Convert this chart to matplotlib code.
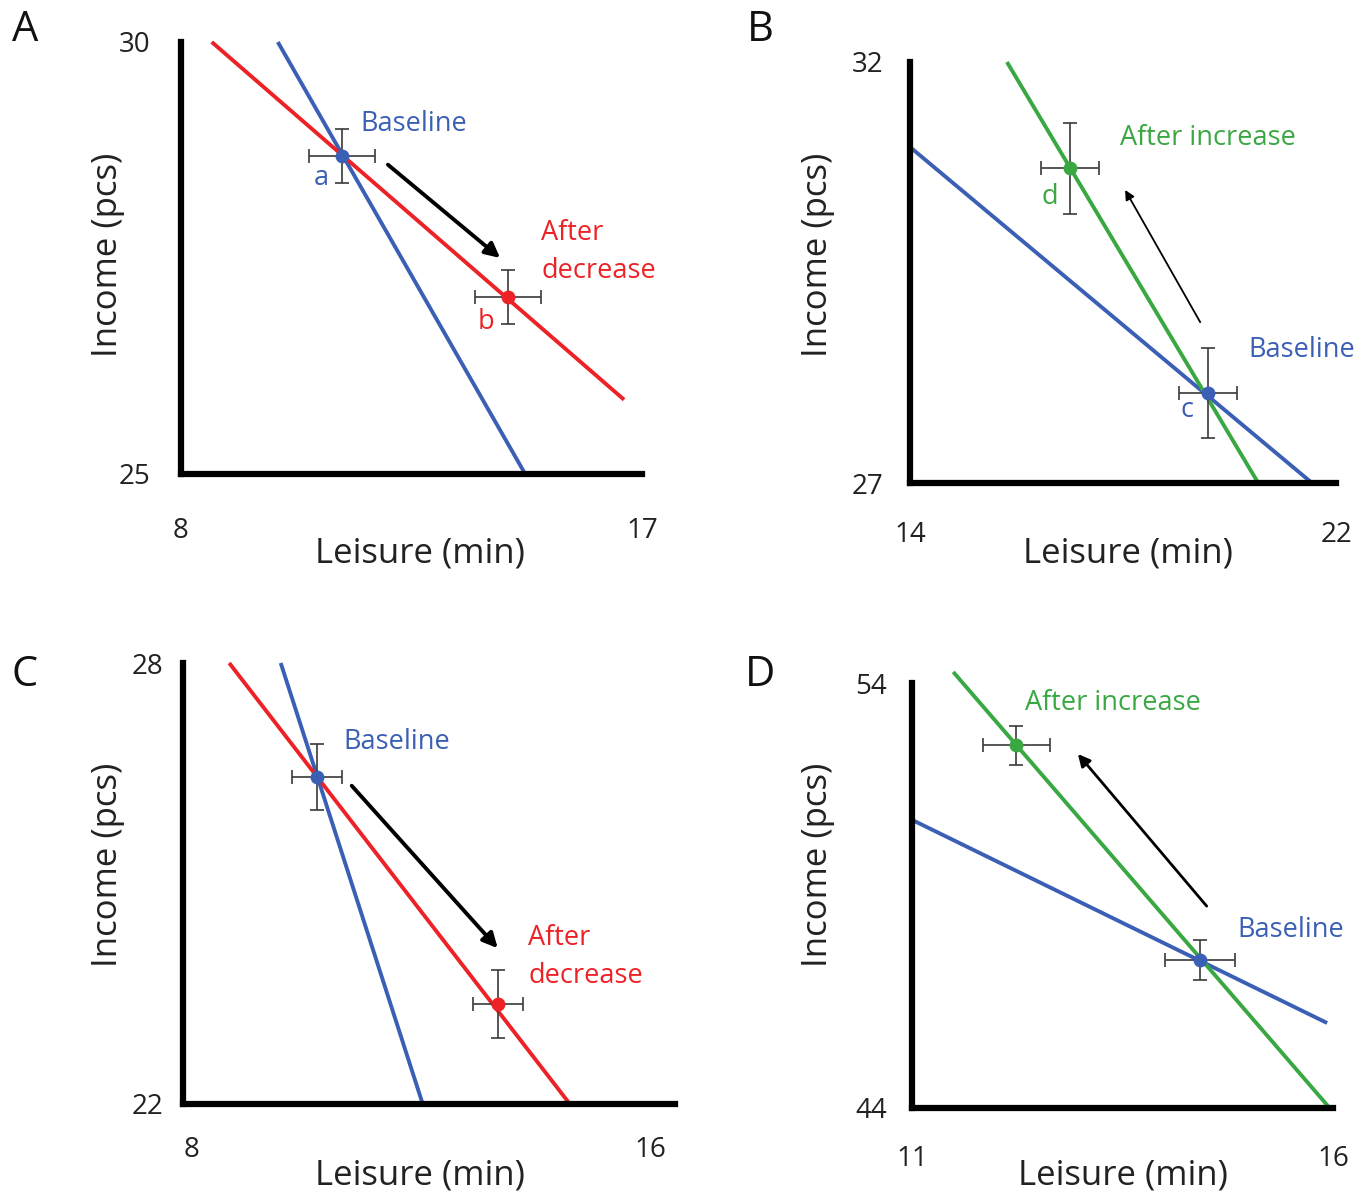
import matplotlib
matplotlib.use("Agg")
import matplotlib.pyplot as plt

plt.rcParams['font.family'] = ['Open Sans', 'DejaVu Sans']

W, H = 1369, 1196

BLUE = '#3a5fb4'
RED = '#ec2227'
GREEN = '#3aa842'
ERR = '#3a3a3a'

# ---------------- data ----------------
# Panel A
A_xlim = (8, 17); A_ylim = (25, 30)
A_points_x = [11.14, 14.38]; A_points_y = [28.68, 27.05]
A_xerr = [0.64, 0.64]; A_yerr = [0.31, 0.31]
A_base_line_x = [9.89, 14.72]; A_base_line_y = [30.0, 25.0]
A_new_line_x = [8.60, 16.65]; A_new_line_y = [30.0, 25.86]
A_arrow = [(12.04, 28.58), (14.23, 27.50)]

# Panel B
B_xlim = (14, 22); B_ylim = (27, 32)
B_points_x = [19.60, 17.00]; B_points_y = [28.07, 30.74]
B_xerr = [0.54, 0.54]; B_yerr = [0.53, 0.54]
B_base_line_x = [14.0, 21.55]; B_base_line_y = [30.99, 27.0]
B_new_line_x = [15.82, 20.54]; B_new_line_y = [32.0, 27.0]
B_arrow = [(19.45, 28.91), (18.04, 30.48)]

# Panel C
C_xlim = (7.843, 16.437); C_ylim = (22, 28)
C_points_x = [10.18, 13.34]; C_points_y = [26.45, 23.36]
C_xerr = [0.44, 0.44]; C_yerr = [0.45, 0.46]
C_base_line_x = [9.55, 12.03]; C_base_line_y = [28.0, 22.0]
C_new_line_x = [8.65, 14.60]; C_new_line_y = [28.0, 22.0]
C_arrow = [(10.79, 26.33), (13.34, 24.12)]

# Panel D
D_xlim = (11, 16); D_ylim = (44, 54)
D_points_x = [14.42, 12.24]; D_points_y = [47.48, 52.54]
D_xerr = [0.42, 0.40]; D_yerr = [0.47, 0.46]
D_base_line_x = [11.0, 15.93]; D_base_line_y = [50.78, 46.0]
D_new_line_x = [11.49, 15.96]; D_new_line_y = [54.26, 44.0]
D_arrow = [(14.50, 48.75), (12.97, 52.33)]

x_ticks = {'A': [8, 17], 'B': [14, 22], 'C': [8, 16], 'D': [11, 16]}
y_ticks = {'A': [25, 30], 'B': [27, 32], 'C': [22, 28], 'D': [44, 54]}

# ---------------- layout ----------------
# axes boxes in pixels: left, top, right, bottom
boxes = {'A': (181, 42, 642, 474), 'B': (910, 62, 1336, 483),
         'C': (183, 663, 675, 1104), 'D': (912, 683, 1333, 1108)}

fig = plt.figure(figsize=(W / 100, H / 100), dpi=100)


def make_ax(key, xlim, ylim, xpad, ypad):
    l, t, r, b = boxes[key]
    ax = fig.add_axes([l / W, 1 - b / H, (r - l) / W, (b - t) / H])
    ax.set_xlim(*xlim)
    ax.set_ylim(*ylim)
    for s in ['top', 'right']:
        ax.spines[s].set_visible(False)
    for s in ['left', 'bottom']:
        ax.spines[s].set_linewidth(4.5)
        ax.spines[s].set_capstyle('projecting')
    ax.set_xticks(x_ticks[key])
    ax.set_yticks(y_ticks[key])
    ax.tick_params(axis='x', length=0, pad=xpad, labelsize=20, colors='#222222')
    ax.tick_params(axis='y', length=0, pad=ypad, labelsize=20, colors='#222222')
    ax.patch.set_alpha(0)
    return ax


def draw(ax, px, py, xerr, yerr, bx, by, nx, ny, newcol, arrow, alw, ams):
    ax.plot(bx, by, color=BLUE, lw=2.8, clip_on=False, zorder=2, solid_capstyle='butt')
    ax.plot(nx, ny, color=newcol, lw=2.8, clip_on=False, zorder=2, solid_capstyle='butt')
    cols = [BLUE, newcol]
    for i in range(2):
        ax.errorbar(px[i], py[i], xerr=xerr[i], yerr=yerr[i], fmt='none',
                    ecolor=ERR, elinewidth=1.2, capsize=5, capthick=1.2, zorder=3)
        ax.plot(px[i], py[i], 'o', color=cols[i], ms=10, zorder=4, mec='none')
    ax.annotate('', xy=arrow[1], xytext=arrow[0],
                arrowprops=dict(arrowstyle='-|>', color='black', lw=alw,
                                mutation_scale=ams, shrinkA=0, shrinkB=0))


TFS = 19.5
LS = 1.45

axA = make_ax('A', A_xlim, A_ylim, 31, 22)
draw(axA, A_points_x, A_points_y, A_xerr, A_yerr, A_base_line_x, A_base_line_y,
     A_new_line_x, A_new_line_y, RED, A_arrow, 2.8, 22)
axA.text(11.51, 29.05, 'Baseline', color=BLUE, fontsize=TFS, va='center', ha='left')
axA.text(10.73, 28.43, 'a', color=BLUE, fontsize=TFS, va='center', ha='center')
axA.text(15.03, 27.57, 'After\ndecrease', color=RED, fontsize=TFS, va='center', ha='left',
         linespacing=LS)
axA.text(13.95, 26.76, 'b', color=RED, fontsize=TFS, va='center', ha='center')

axB = make_ax('B', B_xlim, B_ylim, 27, 19)
draw(axB, B_points_x, B_points_y, B_xerr, B_yerr, B_base_line_x, B_base_line_y,
     B_new_line_x, B_new_line_y, GREEN, B_arrow, 1.3, 14)
axB.text(17.94, 31.10, 'After increase', color=GREEN, fontsize=TFS, va='center', ha='left')
axB.text(16.63, 30.40, 'd', color=GREEN, fontsize=TFS, va='center', ha='center')
axB.text(20.35, 28.58, 'Baseline', color=BLUE, fontsize=TFS, va='center', ha='left')
axB.text(19.20, 27.87, 'c', color=BLUE, fontsize=TFS, va='center', ha='center')

axC = make_ax('C', C_xlim, C_ylim, 23, 14)
draw(axC, C_points_x, C_points_y, C_xerr, C_yerr, C_base_line_x, C_base_line_y,
     C_new_line_x, C_new_line_y, RED, C_arrow, 2.8, 22)
axC.text(10.64, 26.93, 'Baseline', color=BLUE, fontsize=TFS, va='center', ha='left')
axC.text(13.87, 24.00, 'After\ndecrease', color=RED, fontsize=TFS, va='center', ha='left',
         linespacing=LS)

axD = make_ax('D', D_xlim, D_ylim, 27, 18)
draw(axD, D_points_x, D_points_y, D_xerr, D_yerr, D_base_line_x, D_base_line_y,
     D_new_line_x, D_new_line_y, GREEN, D_arrow, 2.0, 18)
axD.text(12.34, 53.53, 'After increase', color=GREEN, fontsize=TFS, va='center', ha='left')
axD.text(14.87, 48.19, 'Baseline', color=BLUE, fontsize=TFS, va='center', ha='left')


def ftext(px, py, s, **kw):
    fig.text(px / W, 1 - py / H, s, **kw)


LFS = 25
for px, py in [(420, 553), (1128, 553), (420, 1175), (1123, 1175)]:
    ftext(px, py, 'Leisure (min)', fontsize=LFS, ha='center', va='center', color='#222222')
for px, py in [(108, 255), (818, 255), (108, 865), (818, 865)]:
    ftext(px, py, 'Income (pcs)', fontsize=LFS, ha='center', va='center', rotation=90,
          color='#222222')
for px, py, s in [(25, 30, 'A'), (760, 30, 'B'), (25, 675, 'C'), (760, 675, 'D')]:
    ftext(px, py, s, fontsize=30, ha='center', va='center', color='#111111')

fig.savefig('out.png', dpi=100, facecolor='white')
